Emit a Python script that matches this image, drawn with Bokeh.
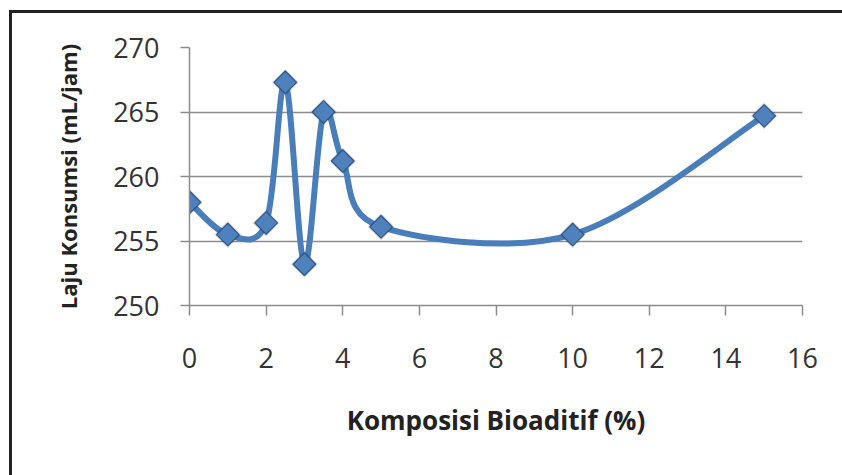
import numpy as np
from bokeh.plotting import figure
from bokeh.models import FixedTicker, ColumnDataSource
from bokeh.embed import file_html
from bokeh.resources import INLINE

# Bioadditive composition (%) and fuel consumption rate (mL/jam)
komposisi = [0, 1, 2, 2.5, 3, 3.5, 4, 5, 10, 15]
laju = [258.0, 255.5, 256.4, 267.3, 253.2, 265.0, 261.2, 256.1, 255.5, 264.7]

x_ticks = [0, 2, 4, 6, 8, 10, 12, 14, 16]
y_ticks = [250, 255, 260, 265, 270]

BLUE = "#4A7EBB"
FONT = "Open Sans"

# The chart sits inside a dark frame offset from the page corner
p = figure(width=842, height=475, output_backend="svg", toolbar_location=None,
           x_range=(0, 16), y_range=(250, 270),
           min_border_left=177, min_border_right=52,
           min_border_top=34, min_border_bottom=183,
           styles={"border": "3px solid #222222", "margin-left": "9px",
                   "margin-top": "10px"})
p.outline_line_color = None
p.background_fill_color = "white"
p.border_fill_color = "white"

# Smoothed line: cubic Bezier segments with Catmull-Rom style control points
xs = np.array(komposisi, dtype=float)
ys = np.array(laju, dtype=float)
n = len(xs)
xp = np.concatenate([[xs[0]], xs, [xs[-1]]])
yp = np.concatenate([[ys[0]], ys, [ys[-1]]])
seg = dict(x0=[], y0=[], x1=[], y1=[], cx0=[], cy0=[], cx1=[], cy1=[])
for i in range(n - 1):
    j = i + 1
    seg["x0"].append(xp[j]); seg["y0"].append(yp[j])
    seg["x1"].append(xp[j + 1]); seg["y1"].append(yp[j + 1])
    seg["cx0"].append(xp[j] + (xp[j + 1] - xp[j - 1]) / 6)
    seg["cy0"].append(yp[j] + (yp[j + 1] - yp[j - 1]) / 6)
    seg["cx1"].append(xp[j + 1] - (xp[j + 2] - xp[j]) / 6)
    seg["cy1"].append(yp[j + 1] - (yp[j + 2] - yp[j]) / 6)
p.bezier(x0="x0", y0="y0", x1="x1", y1="y1", cx0="cx0", cy0="cy0",
         cx1="cx1", cy1="cy1", source=ColumnDataSource(seg),
         line_color=BLUE, line_width=6, line_cap="round")

# Diamond markers with a soft shadow
src = ColumnDataSource(dict(x=komposisi, y=laju))
p.scatter("x", "y", source=src, marker="square", angle=np.pi / 4, size=19,
          fill_color="#1F2F45", fill_alpha=0.18, line_color=None)
p.scatter("x", "y", source=src, marker="square", angle=np.pi / 4, size=16,
          fill_color="#4F81BD", line_color="#2F5586", line_width=1.2)

# Axes
p.xaxis.ticker = FixedTicker(ticks=x_ticks)
p.yaxis.ticker = FixedTicker(ticks=y_ticks)
p.xaxis.minor_tick_line_color = None
p.yaxis.minor_tick_line_color = None
for ax in (p.xaxis, p.yaxis):
    ax.axis_line_color = "#8C8C8C"
    ax.axis_line_width = 1.5
    ax.major_tick_line_color = "#8C8C8C"
    ax.major_tick_line_width = 1.5
    ax.major_tick_in = 0
    ax.major_label_text_font = FONT
    ax.major_label_text_font_size = "27px"
    ax.major_label_text_color = "#333333"
    ax.axis_label_text_font = FONT
    ax.axis_label_text_font_style = "bold"
    ax.axis_label_text_color = "#222222"
p.xaxis.major_tick_out = 10
p.yaxis.major_tick_out = 9
p.xaxis.major_label_standoff = 32
p.yaxis.major_label_standoff = 21
p.xaxis.axis_label = "Komposisi Bioaditif (%)"
p.yaxis.axis_label = "Laju Konsumsi (mL/jam)"
p.xaxis.axis_label_text_font_size = "26px"
p.yaxis.axis_label_text_font_size = "22px"
p.xaxis.axis_label_standoff = 31
p.yaxis.axis_label_standoff = 27

p.xgrid.grid_line_color = None
p.ygrid.grid_line_color = "#8C8C8C"
p.ygrid.grid_line_width = 1.5

open("out.html", "w").write(file_html(p, INLINE))
